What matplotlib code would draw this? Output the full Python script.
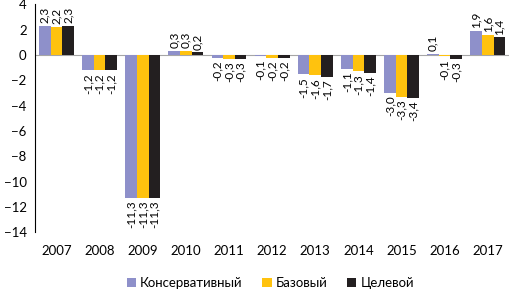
import numpy as np
import matplotlib.pyplot as plt

plt.rcParams['font.family'] = ['Lato', 'DejaVu Sans']

years = ['2007', '2008', '2009', '2010', '2011', '2012', '2013', '2014', '2015', '2016', '2017']
conservative = [2.3, -1.2, -11.3, 0.3, -0.2, -0.1, -1.5, -1.1, -3.0, 0.1, 1.9]
base = [2.2, -1.2, -11.3, 0.3, -0.3, -0.2, -1.6, -1.3, -3.3, -0.1, 1.6]
target = [2.3, -1.2, -11.3, 0.2, -0.3, -0.2, -1.7, -1.4, -3.4, -0.3, 1.4]
names = ['Консервативный', 'Базовый', 'Целевой']
colors = ['#8E90CA', '#FFC20E', '#231F20']

fig = plt.figure(figsize=(5.1, 2.92), dpi=100)
ax = fig.add_axes([0.0686, 0.205, 0.93, 0.78])

x = np.arange(len(years))
w = 0.27
for i, (vals, name, col) in enumerate(zip([conservative, base, target], names, colors)):
    pos = x + (i - 1) * w
    ax.bar(pos, vals, width=w, color=col, label=name, zorder=2)
    for px, v in zip(pos, vals):
        txt = ('%.1f' % v).replace('.', ',')
        if v >= 0:
            ax.annotate(txt, (px, v), xytext=(0, 2), textcoords='offset points',
                        rotation=90, ha='center', va='bottom', fontsize=8.5)
        else:
            ax.annotate(txt, (px, v), xytext=(0, -2), textcoords='offset points',
                        rotation=90, ha='center', va='top', fontsize=8.5)

ax.set_xlim(-0.5, len(years) - 0.5)
ax.set_ylim(-14, 4)
ax.set_yticks(range(-14, 5, 2))
ax.set_xticks([])
for i, y in enumerate(years):
    ax.text(x[i], -15.5, y, ha='center', va='center', fontsize=9.5)
ax.axhline(0, color='#A6A6A6', lw=0.8, zorder=1)
for s in ['top', 'right', 'bottom']:
    ax.spines[s].set_visible(False)
ax.spines['left'].set_color('black')
ax.spines['left'].set_linewidth(0.8)
ax.tick_params(axis='y', length=0, labelsize=9.5, pad=6)

fig.legend(loc='center', bbox_to_anchor=(0.53, 0.03), ncol=3, frameon=False,
           fontsize=9.5, handlelength=0.7, handleheight=0.7, handletextpad=0.3,
           columnspacing=1.5)

fig.savefig('out.png', dpi=100)
